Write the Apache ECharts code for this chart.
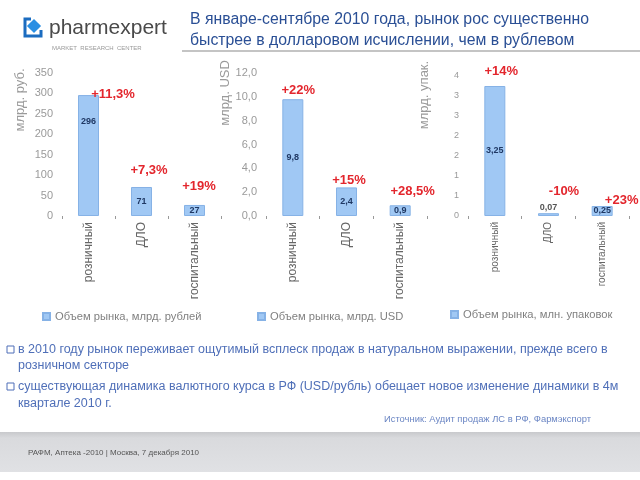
<!DOCTYPE html>
<html><head><meta charset="utf-8">
<script src="https://cdn.jsdelivr.net/npm/echarts@6/dist/echarts.min.js"></script>
<style>html,body{margin:0;padding:0;background:#fff}#c{width:640px;height:480px}</style>
</head><body><div id="c"></div>
<script>
const categories = ['розничный', 'ДЛО', 'госпитальный'];
const rubValues = [296, 71, 27];
const usdValues = [9.8, 2.4, 0.9];
const packValues = [3.25, 0.07, 0.25];
const rubGrowth = ['+11,3%', '+7,3%', '+19%'];
const usdGrowth = ['+22%', '+15%', '+28,5%'];
const packGrowth = ['+14%', '-10%', '+23%'];
const seriesNames = ['Объем рынка, млрд. рублей', 'Объем рынка, млрд. USD', 'Объем рынка, млн. упаковок'];
const axisNames = ['млрд. руб.', 'млрд. USD', 'млрд. упак.'];
const yMax = [350, 12, 3.5];
const yInterval = [50, 2, 0.5];
const titleLines = ['В январе-сентябре 2010 года, рынок рос существенно', 'быстрее в долларовом исчислении, чем в рублевом'];
const bulletLines = [
  ['в 2010 году рынок переживает ощутимый всплеск продаж в натуральном выражении, прежде всего в', 'розничном секторе'],
  ['существующая динамика валютного курса в РФ (USD/рубль) обещает новое изменение динамики в 4м', 'квартале 2010 г.']
];
const sourceText = 'Источник: Аудит продаж ЛС в РФ, Фармэкспорт';
const footerText = 'РАФМ, Аптека -2010 | Москва, 7 декабря 2010';

const allValues = [rubValues, usdValues, packValues];
const allGrowth = [rubGrowth, usdGrowth, packGrowth];

// layout / style
const grids = [
  {left: 62, top: 73, width: 159, height: 143},
  {left: 266, top: 73, width: 161, height: 143},
  {left: 468, top: 76, width: 161, height: 140}
];
const growthPos = [
  [[35, -1], [18, -17], [15, -19]],
  [[16, -9], [13, -7], [23, -14]],
  [[17, -15], [26, -22], [30, -6]]
];
const valueLabelPos = [
  [{position: 'insideTop', distance: 22}, {position: 'inside'}, {position: 'inside'}],
  [{position: 'inside'}, {position: 'inside'}, {position: 'inside'}],
  [{position: 'inside'}, {position: 'top', distance: 1, color: '#555'}, {position: 'inside'}]
];
const yFormat = [
  v => String(v),
  v => v.toFixed(1).replace('.', ','),
  v => String(Math.round(v))
];
const legendPos = [{left: 42, top: 311}, {left: 257, top: 311}, {left: 450, top: 309}];
const axisNamePos = [[20, 100], [225, 93], [424, 95]];
const FONT = '"Liberation Sans", Arial, sans-serif';

const chart = echarts.init(document.getElementById('c'), null, {renderer: 'canvas'});

const xAxis = [], yAxis = [], series = [], legend = [];
for (let i = 0; i < 3; i++) {
  xAxis.push({
    type: 'category', gridIndex: i, data: categories,
    axisLine: {show: false},
    axisTick: {show: true, length: 3, lineStyle: {color: '#999'}},
    axisLabel: {rotate: 90, margin: 6, color: '#666', fontFamily: FONT, fontSize: i === 2 ? 10 : 12}
  });
  yAxis.push({
    type: 'value', gridIndex: i, min: 0, max: yMax[i], interval: yInterval[i],
    axisLine: {show: false}, axisTick: {show: false}, splitLine: {show: false},
    axisLabel: {margin: 9, color: '#9a9a9a', fontFamily: FONT, fontSize: i === 2 ? 9 : 11, formatter: yFormat[i]}
  });
  series.push({
    name: seriesNames[i], type: 'bar', xAxisIndex: i, yAxisIndex: i,
    barWidth: 21, barGap: '-100%',
    itemStyle: {color: '#a0c8f4', borderColor: '#86b2e6', borderWidth: 1},
    data: allValues[i].map((v, j) => ({
      value: v,
      label: Object.assign({show: true}, valueLabelPos[i][j])
    })),
    label: {
      show: true, color: '#1f3864', fontSize: 9, fontWeight: 'bold', fontFamily: FONT,
      formatter: p => String(p.value).replace('.', ',')
    }
  });
  series.push({
    name: 'growth' + i, type: 'bar', xAxisIndex: i, yAxisIndex: i,
    barWidth: 21, barGap: '-100%', silent: true, z: 5,
    itemStyle: {color: 'rgba(0,0,0,0)'},
    data: allValues[i].map((v, j) => ({
      value: v,
      label: {show: true, position: growthPos[i][j], align: 'center', verticalAlign: 'middle'}
    })),
    label: {
      show: true, color: '#e3262d', fontSize: 13, fontWeight: 'bold', fontFamily: FONT,
      formatter: p => allGrowth[i][p.dataIndex]
    }
  });
  legend.push(Object.assign({
    data: [seriesNames[i]], itemWidth: 7, itemHeight: 7, itemGap: 4, padding: 0,
    icon: 'rect',
    textStyle: {color: '#808080', fontSize: 11.2, fontFamily: FONT}
  }, legendPos[i]));
}

const graphic = [];
// logo
graphic.push({type: 'polyline', shape: {points: [[31, 19], [25, 19], [25, 36], [41, 36], [41, 30]]},
  style: {stroke: '#1b6cc0', lineWidth: 3, fill: null}});
graphic.push({type: 'rect', x: 34, y: 26, rotation: Math.PI / 4, shape: {x: -5, y: -5, width: 10, height: 10},
  style: {fill: '#2b8fe3'}});
graphic.push({type: 'text', x: 49, y: 28, style: {text: 'pharmexpert', fill: '#4a4a4a', font: '21px ' + FONT, textVerticalAlign: 'middle'}});
graphic.push({type: 'text', x: 52, y: 48, style: {text: 'MARKET  RESEARCH  CENTER', fill: '#999', font: '6px ' + FONT, textVerticalAlign: 'middle'}});
// title
titleLines.forEach((t, k) => graphic.push({type: 'text', x: 190, y: 20 + k * 21,
  style: {text: t, fill: '#2a4f95', font: '15.8px ' + FONT, textVerticalAlign: 'middle'}}));
graphic.push({type: 'line', shape: {x1: 182, y1: 51, x2: 640, y2: 51}, style: {stroke: '#c4c4c4', lineWidth: 2}});
// axis names
axisNames.forEach((t, k) => graphic.push({type: 'text', x: axisNamePos[k][0], y: axisNamePos[k][1], rotation: Math.PI / 2,
  style: {text: t, fill: '#9a9a9a', font: '13px ' + FONT, textAlign: 'center', textVerticalAlign: 'middle'}}));
// bullets
const bulletY = [[350, 366], [387, 404]];
bulletLines.forEach((lines, b) => {
  graphic.push({type: 'rect', shape: {x: 7, y: bulletY[b][0] - 4, width: 7, height: 7},
    style: {fill: '#fff', stroke: '#4f6fb8', lineWidth: 1}});
  lines.forEach((t, k) => graphic.push({type: 'text', x: 18, y: bulletY[b][k],
    style: {text: t, fill: '#4f6fb8', font: '12.5px ' + FONT, textVerticalAlign: 'middle'}}));
});
graphic.push({type: 'text', x: 384, y: 419, style: {text: sourceText, fill: '#6b86c4', font: '9.4px ' + FONT, textVerticalAlign: 'middle'}});
// footer
graphic.push({type: 'rect', shape: {x: 0, y: 432, width: 640, height: 40}, z: -1,
  style: {fill: new echarts.graphic.LinearGradient(0, 0, 0, 1, [
    {offset: 0, color: '#c8c9cc'}, {offset: 0.15, color: '#d9dadd'}, {offset: 1, color: '#e0e1e4'}])}});
graphic.push({type: 'text', x: 28, y: 453, style: {text: footerText, fill: '#555', font: '8px ' + FONT, textVerticalAlign: 'middle'}});

chart.setOption({
  animation: false,
  grid: grids,
  xAxis: xAxis,
  yAxis: yAxis,
  legend: legend,
  series: series,
  graphic: graphic
});
</script></body></html>
